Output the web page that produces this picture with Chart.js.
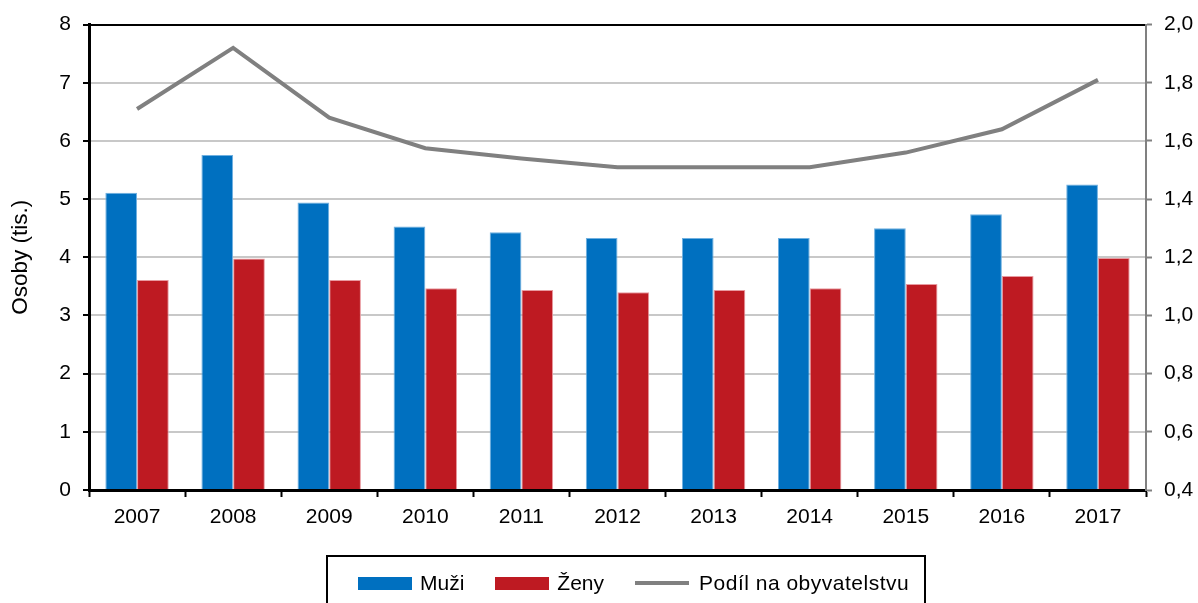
<!DOCTYPE html>
<html lang="cs">
<head>
<meta charset="utf-8">
<title>Osoby</title>
<script src="https://cdn.jsdelivr.net/npm/chart.js@4.4.1/dist/chart.umd.min.js"></script>
<style>
	html, body {
		margin: 0;
		padding: 0;
		background: #fff;
		overflow: hidden;
	}

	.chart-wrap {
		position: relative;
		width: 1198px;
		height: 603px;
	}

	.legend {
		position: absolute;
		left: 326px;
		top: 555px;
		width: 600px;
		height: 70px;
		box-sizing: border-box;
		border: 2px solid #000;
		display: flex;
		align-items: flex-start;
		padding: 14px 0 0 30px;
		font: 21px "Liberation Sans", Arial, sans-serif;
		color: #000;
		white-space: nowrap;
	}

	.legend-item {
		display: flex;
		align-items: center;
		flex-shrink: 0;
		margin-right: 31px;
		line-height: 24px;
	}

	.legend-swatch {
		width: 54px;
		height: 13px;
		margin-right: 8px;
	}

	.legend-line {
		width: 54px;
		height: 4px;
		margin-right: 10px;
		background: #808080;
	}

	.legend-text-wide {
		letter-spacing: 0.5px;
	}
</style>
</head>
<body>
<div class="chart-wrap">
	<canvas id="chart"></canvas>
	<div class="legend" id="legend"></div>
</div>
<script>
const years = ['2007', '2008', '2009', '2010', '2011', '2012', '2013', '2014', '2015', '2016', '2017'];
const muzi = [5.11, 5.76, 4.94, 4.53, 4.43, 4.33, 4.33, 4.33, 4.50, 4.74, 5.25];
const zeny = [3.61, 3.98, 3.61, 3.47, 3.44, 3.40, 3.44, 3.47, 3.54, 3.68, 3.99];
const podil = [1.71, 1.92, 1.68, 1.575, 1.54, 1.51, 1.51, 1.51, 1.56, 1.64, 1.81];

const colors = {
	muzi: '#0070C0',
	muziEdge: '#6FB0E0',
	zeny: '#BE1A22',
	zenyEdge: '#E89AA0',
	podil: '#808080',
	grid: '#C8C8C8',
};

const fontFamily = '"Liberation Sans", Arial, sans-serif';
Chart.defaults.font.family = fontFamily;
Chart.defaults.font.size = 21;
Chart.defaults.color = '#000';

const commaFormat = (value) => value.toFixed(1).replace('.', ',');

new Chart(document.getElementById('chart'), {
	data: {
		labels: years,
		datasets: [
			{
				type: 'line',
				label: 'Podíl na obyvatelstvu',
				data: podil,
				yAxisID: 'y1',
				borderColor: colors.podil,
				borderWidth: 4,
				pointRadius: 0,
				tension: 0,
				order: 0,
			},
			{
				type: 'bar',
				label: 'Muži',
				data: muzi,
				yAxisID: 'y',
				backgroundColor: colors.muzi,
				borderColor: colors.muziEdge,
				borderWidth: 1,
				categoryPercentage: 0.66,
				barPercentage: 1,
				order: 1,
			},
			{
				type: 'bar',
				label: 'Ženy',
				data: zeny,
				yAxisID: 'y',
				backgroundColor: colors.zeny,
				borderColor: colors.zenyEdge,
				borderWidth: 1,
				categoryPercentage: 0.66,
				barPercentage: 1,
				order: 1,
			},
		],
	},
	options: {
		responsive: true,
		maintainAspectRatio: false,
		animation: false,
		layout: { padding: { top: 22, left: 0, right: 0, bottom: 0 } },
		plugins: {
			legend: { display: false },
			tooltip: { enabled: false },
		},
		scales: {
			x: {
				offset: true,
				grid: {
					offset: true,
					drawOnChartArea: false,
					drawTicks: true,
					tickLength: 7,
					tickColor: '#000',
					tickWidth: 2,
				},
				border: { color: '#000', width: 3 },
				ticks: { padding: 8, maxRotation: 0 },
				afterFit: (scale) => { scale.height = 113; },
			},
			y: {
				position: 'left',
				min: 0,
				max: 8,
				ticks: { stepSize: 1, padding: 12 },
				grid: {
					color: (ctx) => (ctx.tick && ctx.tick.value === 8 ? '#000' : colors.grid),
					lineWidth: 2,
					tickLength: 6,
					tickColor: '#000',
					tickWidth: 2,
				},
				border: { color: '#000', width: 3 },
				title: {
					display: true,
					text: 'Osoby (tis.)',
					font: { size: 22.5 },
					padding: { top: 7, bottom: 0 },
				},
				afterFit: (scale) => { scale.width = 89; },
			},
			y1: {
				position: 'right',
				min: 0.4,
				max: 2.0,
				ticks: {
					stepSize: 0.2,
					padding: 12,
					callback: (value) => commaFormat(value),
				},
				grid: {
					drawOnChartArea: false,
					tickLength: 6,
					tickColor: colors.podil,
					tickWidth: 2,
				},
				border: { color: colors.podil, width: 2 },
				afterFit: (scale) => { scale.width = 52; },
			},
		},
	},
});

const legendItems = [
	{ label: 'Muži', color: colors.muzi, kind: 'box' },
	{ label: 'Ženy', color: colors.zeny, kind: 'box' },
	{ label: 'Podíl na obyvatelstvu', color: colors.podil, kind: 'line' },
];

document.getElementById('legend').innerHTML = legendItems.map((item) => `
	<div class="legend-item">
		<span class="${item.kind === 'box' ? 'legend-swatch' : 'legend-line'}" style="background:${item.color}"></span>
		<span class="${item.kind === 'line' ? 'legend-text-wide' : ''}">${item.label}</span>
	</div>
`).join('');
</script>
</body>
</html>
